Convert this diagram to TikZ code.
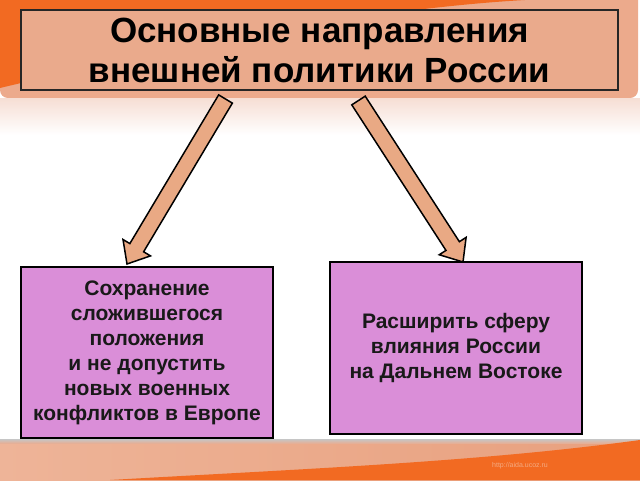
\documentclass[tikz,border=0pt]{standalone}
\usepackage{fontspec}
\setmainfont{Liberation Sans}
\usetikzlibrary{calc}
\definecolor{orangeband}{RGB}{242,106,34}
\definecolor{salmonband}{RGB}{236,170,140}
\definecolor{titlefill}{RGB}{234,170,140}
\definecolor{arrowfill}{RGB}{233,169,132}
\definecolor{violetbox}{RGB}{218,142,216}
\definecolor{urltext}{RGB}{244,170,130}
\definecolor{reflect}{RGB}{246,222,212}
\begin{document}
\begin{tikzpicture}[x=1pt,y=-1pt,
  titlebox/.style={draw=black!85, line width=1.5pt, fill=titlefill, minimum width=597pt, minimum height=80pt, inner sep=0pt, align=center, font=\bfseries\fontsize{35}{40}\selectfont},
  goalbox/.style={draw=black, line width=2pt, fill=violetbox, minimum width=252pt, inner sep=0pt, align=center, text=black!90, font=\bfseries\fontsize{21}{25}\selectfont},
  blockarrow/.style={draw=black, line width=1.5pt, fill=arrowfill, line join=miter}]
\useasboundingbox (0,0) rectangle (640,480);
% top band
\begin{scope}
  \clip[rounded corners=8pt] (0,-10) rectangle (638,98);
  \fill[salmonband] (0,-10) rectangle (640,98);
  \fill[orangeband] (0,-10) -- (0,88) .. controls (200,40) and (400,5) .. (545,-1) -- (545,-10) -- cycle;
\end{scope}
\shade[top color=reflect, bottom color=white] (0,98) rectangle (640,135);
% bottom band
\shade[top color=gray!45, bottom color=salmonband] (0,439) rectangle (640,444);
\shade[left color={rgb,255:red,238;green,180;blue,152}, right color={rgb,255:red,232;green,160;blue,126}] (0,444) rectangle (640,480);
\fill[orangeband] (110,480) .. controls (300,469) and (480,462) .. (640,440) -- (640,480) -- cycle;
\node[text=urltext, font=\fontsize{7}{8}\selectfont, anchor=west, inner sep=0pt] (url) at (492,466) {http://aida.ucoz.ru};
% title
\node[titlebox] (title) at (319.5,50) {Основные направления\\внешней политики России};
% arrow coordinates
\coordinate (lt) at (225.5,99);
\coordinate (lp) at (127,264);
\coordinate (rt) at (358.5,100.5);
\coordinate (rp) at (463,262);
\coordinate (lh) at ($(lp)!19pt!(lt)$);
\coordinate (rh) at ($(rp)!19pt!(rt)$);
\draw[blockarrow] ($(lt)!8pt!90:(lp)$) -- ($(lh)!8pt!90:(lp)$) -- ($(lh)!16pt!90:(lp)$) -- (lp) -- ($(lh)!16pt!-90:(lp)$) -- ($(lh)!8pt!-90:(lp)$) -- ($(lt)!8pt!-90:(lp)$) -- cycle;
\draw[blockarrow] ($(rt)!8pt!90:(rp)$) -- ($(rh)!8pt!90:(rp)$) -- ($(rh)!16pt!90:(rp)$) -- (rp) -- ($(rh)!16pt!-90:(rp)$) -- ($(rh)!8pt!-90:(rp)$) -- ($(rt)!8pt!-90:(rp)$) -- cycle;
% boxes
\node[goalbox, minimum height=171pt] (lbox) at (147,352.5) {Сохранение\\сложившегося\\положения\\и не допустить\\новых военных\\конфликтов в Европе};
\node[goalbox, minimum height=172pt] (rbox) at (456,348) {Расширить сферу\\влияния России\\на Дальнем Востоке};
\end{tikzpicture}
\end{document}
